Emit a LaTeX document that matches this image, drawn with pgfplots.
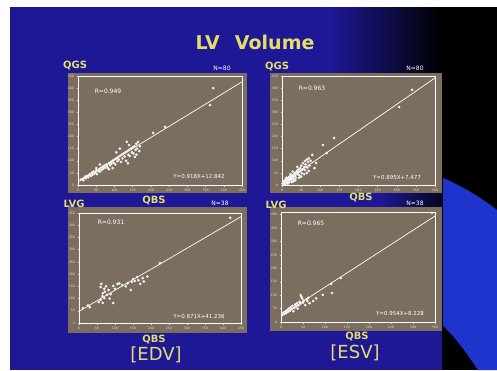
\documentclass[border=0pt]{standalone}
\usepackage{pgfplots}
\pgfplotsset{compat=1.18}
\usepackage{fontspec}
\setmainfont{DejaVu Sans}
\definecolor{slideblue}{RGB}{30,24,150}
\definecolor{swoosh}{RGB}{30,52,205}
\definecolor{panel}{RGB}{124,110,94}
\definecolor{ylw}{RGB}{228,222,105}
\definecolor{tickc}{RGB}{225,220,210}

\pgfplotstableread{
x y
8 22
12 25
15 20
18 30
20 35
22 28
25 38
28 32
30 40
32 45
35 38
38 50
40 42
42 55
45 48
48 52
50 60
52 45
55 58
58 65
60 55
62 70
65 62
68 75
70 68
72 80
75 72
78 85
80 78
82 70
85 90
88 82
90 95
92 88
95 100
98 92
100 105
102 85
105 110
108 98
110 115
112 105
115 120
118 95
120 125
122 110
125 130
128 118
130 135
132 100
135 140
138 125
140 145
142 120
145 150
148 135
150 155
152 130
155 160
158 145
160 170
162 150
165 178
168 140
137 90
156 116
134 178
140 165
160 125
170 160
115 150
105 135
95 70
85 65
60 85
50 70
206 215
239 240
362 330
371 400
}\tlEDV

\pgfplotstableread{
x y
2 6
4 10
5 15
6 8
8 12
8 20
10 14
10 25
12 18
13 10
14 22
15 28
16 16
18 24
18 32
20 20
20 35
22 28
24 38
25 22
26 30
28 40
30 35
30 25
32 45
34 38
35 50
36 30
38 55
40 45
40 60
42 50
44 65
45 40
46 55
48 70
50 60
50 80
52 48
54 65
55 90
58 75
60 99
60 62
62 85
65 105
66 72
68 95
70 110
72 80
75 100
79 124
89 91
107 165
117 132
136 194
306 322
340 393
15 5
25 12
35 20
45 30
58 45
70 58
85 70
28 55
40 75
22 45
12 30
5 4
8 3
18 10
30 15
50 35
65 50
}\trESV

\pgfplotstableread{
x y
11 61
30 65
25 72
55 86
66 82
60 95
70 102
65 110
78 115
66 122
72 128
82 135
60 147
62 160
70 140
75 150
88 118
95 152
100 140
107 160
112 162
95 82
120 155
135 163
144 135
147 168
150 180
155 172
161 188
165 175
170 160
177 184
180 170
190 190
225 245
420 430
85 100
130 150
}\blEDV

\pgfplotstableread{
x y
3 26
5 35
8 30
10 40
12 34
14 45
16 38
18 50
20 42
22 55
24 48
26 60
28 40
30 52
32 65
34 58
36 70
38 50
40 62
42 75
44 68
46 95
48 88
50 72
52 80
55 63
58 85
60 78
62 90
65 70
73 78
80 88
95 101
114 142
116 108
136 164
343 407
45 100
}\brESV

\pgfplotsset{
  panelax/.style={
    scale only axis, anchor=south west,
    axis line style={white, line width=0.7pt},
    tick style={tickc, line width=0.4pt},
    major tick length=1.5pt, tick align=outside, tick pos=left,
    ticklabel style={font=\fontsize{3.2}{3.4}\selectfont, text=tickc},
    /pgf/number format/assume math mode=true,
    xticklabel style={yshift=1pt}, yticklabel style={xshift=1pt},
    clip=false,
  },
  dots/.style={only marks, mark=*, color=white, mark size=1.25pt, mark options={fill=white, draw=white!85!panel, line width=0.2pt}},
  fit/.style={white, line width=0.7pt, no marks},
}

\begin{document}
\begin{tikzpicture}
\useasboundingbox (0pt,0pt) rectangle (497pt,-370pt);
\fill[white] (0pt,0pt) rectangle (497pt,-370pt);
\fill[slideblue] (10pt,-7pt) rectangle (497pt,-370pt);
\shade[left color=slideblue, right color=black] (330pt,-7pt) rectangle (442pt,-73pt);
\fill[black] (442pt,-7pt) rectangle (497pt,-370pt);
\shade[left color=slideblue, right color=black!80!slideblue] (380pt,-193pt) rectangle (442pt,-207pt);
\fill[swoosh] (443pt,-178pt) .. controls (462pt,-186pt) and (482pt,-198pt) .. (497pt,-210pt)
   -- (497pt,-370pt) -- (478pt,-370pt) .. controls (466pt,-352pt) and (455pt,-337pt) .. (443pt,-326pt) -- cycle;
% panels
\fill[panel] (68pt,-73pt) rectangle (247pt,-193pt);
\fill[panel] (270pt,-73pt) rectangle (442pt,-193pt);
\fill[panel] (68pt,-207pt) rectangle (247pt,-333pt);
\fill[panel] (270pt,-207pt) rectangle (442pt,-331pt);

\begin{axis}[panelax, at={(78pt,-185pt)}, width=164pt, height=109pt,
  xmin=0, xmax=450, ymin=0, ymax=450, xtick={0,50,...,450}, ytick={0,50,...,450}]
  \addplot[fit] coordinates {(0,12.8) (450,425.9)};
  \addplot[dots] table {\tlEDV};
\end{axis}
\begin{axis}[panelax, at={(282pt,-185pt)}, width=153pt, height=109pt,
  xmin=0, xmax=400, ymin=0, ymax=450, xtick={0,50,...,400}, ytick={0,50,...,450}]
  \addplot[fit] coordinates {(0,6) (400,442)};
  \addplot[dots] table {\trESV};
\end{axis}
\begin{axis}[panelax, at={(79pt,-323pt)}, width=162pt, height=110pt,
  xmin=0, xmax=450, ymin=0, ymax=450, xtick={0,50,...,450}, ytick={0,50,...,450}]
  \addplot[fit] coordinates {(0,48) (450,435)};
  \addplot[dots] table {\blEDV};
\end{axis}
\begin{axis}[panelax, at={(281pt,-322pt)}, width=154pt, height=110pt,
  xmin=0, xmax=350, ymin=0, ymax=410, xtick={0,50,...,350}, ytick={0,50,...,400}]
  \addplot[fit] coordinates {(0,24) (350,395)};
  \addplot[dots] table {\brESV};
\end{axis}

% texts
\node[text=ylw, font=\bfseries\fontsize{19}{19}\selectfont] at (255pt,-42pt) {LV\hspace{0.8em}Volume};
\begin{scope}[every node/.style={text=ylw, font=\bfseries\fontsize{10}{10}\selectfont, inner sep=0pt}]
\node at (75pt,-66pt) {QGS};
\node at (277pt,-67pt) {QGS};
\node at (154pt,-201pt) {QBS};
\node at (361pt,-198pt) {QBS};
\node at (74pt,-204pt) {LVG};
\node at (276pt,-205pt) {LVG};
\node at (154pt,-340pt) {QBS};
\node at (357pt,-337pt) {QBS};
\end{scope}
\node[text=ylw, font=\fontsize{18}{18}\selectfont, inner sep=0pt] at (156pt,-355pt) {[EDV]};
\node[text=ylw, font=\fontsize{18}{18}\selectfont, inner sep=0pt] at (355pt,-353pt) {[ESV]};
\begin{scope}[every node/.style={text=white, font=\fontsize{6}{6}\selectfont, inner sep=0pt}]
\node at (222pt,-68pt) {N=80};
\node at (415pt,-68pt) {N=80};
\node at (220pt,-203pt) {N=38};
\node at (415pt,-203pt) {N=38};
\node at (108pt,-91pt) {R=0.949};
\node at (312pt,-88pt) {R=0.963};
\node at (111pt,-222pt) {R=0.931};
\node at (311pt,-223pt) {R=0.965};
\end{scope}
\begin{scope}[every node/.style={text=white, font=\fontsize{5.5}{5.5}\selectfont, inner sep=0pt}]
\node at (199pt,-176pt) {Y=0.918X+12.842};
\node at (397pt,-177pt) {Y=0.895X+7.477};
\node at (199pt,-316pt) {Y=0.871X+41.236};
\node at (400pt,-313pt) {Y=0.954X+8.228};
\end{scope}
\end{tikzpicture}
\end{document}
